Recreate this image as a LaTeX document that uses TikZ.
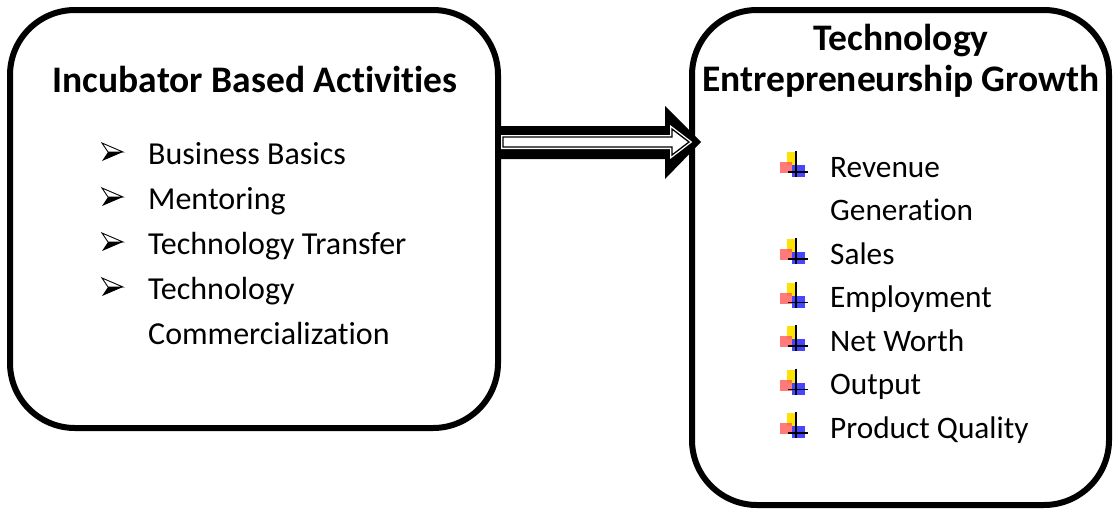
\documentclass[tikz,border=0pt]{standalone}
\usepackage{fontspec}
\setmainfont{Carlito}[Ligatures=NoCommon]
\begin{document}
\begin{tikzpicture}[x=1pt,y=-1pt,
  boxstyle/.style={draw=black, line width=6pt, rounded corners=65pt, inner sep=0pt, outer sep=0pt},
  headtext/.style={anchor=base, font=\bfseries\fontsize{37.5}{45}\selectfont},
  rheadtext/.style={anchor=base, font=\bfseries\fontsize{37.5}{45}\selectfont},
  itemtext/.style={anchor=base west, font=\fontsize{32}{38}\selectfont, inner sep=0pt},
  ritemtext/.style={anchor=base west, font=\fontsize{31.3}{37}\selectfont, inner sep=0pt},
  arrbullet/.pic={
    \draw[line width=0.9pt, line join=miter] (0,-21) -- (21,-12) -- (6,-12) -- cycle;
    \fill[black] (0,-3) -- (21,-12) -- (6,-12) -- cycle;
  },
  crossbullet/.pic={
    \fill[yellow!85!orange] (7,-25) rectangle (16,-12);
    \fill[red!65, opacity=0.8] (0,-15) rectangle (12,-4);
    \fill[blue!85, opacity=0.85] (12,-12) rectangle (25,0);
    \draw[line width=1.2pt] (16,-26) -- (16,0);
    \draw[line width=1.2pt] (8,-5) -- (28,-5);
  }
]
\useasboundingbox (0,0) rectangle (1118,512);

% boxes
\node[boxstyle, minimum width=488pt, minimum height=418pt] (lbox) at (254,219) {};
\node[boxstyle, minimum width=417pt, minimum height=495pt] (rbox) at (900.5,257.5) {};

% big outlined arrow
\fill[black] (495,126) -- (665,126) -- (665,106) -- (701,142) -- (665,179) -- (665,159) -- (495,159) -- cycle;
\draw[white, line width=4pt, line join=miter] (503,137) -- (672,137) -- (672,129) -- (689,142) -- (672,155) -- (672,147) -- (503,147) -- cycle;
\draw[black, fill=white, line width=1.3pt, line join=miter] (503,137) -- (672,137) -- (672,129) -- (689,142) -- (672,155) -- (672,147) -- (503,147) -- cycle;

% left content
\node[headtext] (lh) at (255,92) {Incubator Based Activities};
\pic at (102,164) {arrbullet};
\node[itemtext] (l1) at (148,164) {Business Basics};
\pic at (102,209) {arrbullet};
\node[itemtext] (l2) at (148,209) {Mentoring};
\pic at (102,254) {arrbullet};
\node[itemtext] (l3) at (148,254) {Technology Transfer};
\pic at (102,299) {arrbullet};
\node[itemtext] (l4) at (148,299) {Technology};
\node[itemtext] (l5) at (148,344) {Commercialization};

% right content
\node[rheadtext] (rh1) at (901,50) {Technology};
\node[rheadtext] (rh2) at (901,91) {Entrepreneurship Growth};
\pic at (780,177) {crossbullet};
\node[ritemtext] (r1) at (830,177) {Revenue};
\node[ritemtext] (r1b) at (830,220.5) {Generation};
\pic at (780,264) {crossbullet};
\node[ritemtext] (r2) at (830,264) {Sales};
\pic at (780,307.5) {crossbullet};
\node[ritemtext] (r3) at (830,307.5) {Employment};
\pic at (780,351) {crossbullet};
\node[ritemtext] (r4) at (830,351) {Net Worth};
\pic at (780,394.5) {crossbullet};
\node[ritemtext] (r5) at (830,394.5) {Output};
\pic at (780,438) {crossbullet};
\node[ritemtext] (r6) at (830,438) {Product Quality};
\end{tikzpicture}
\end{document}
